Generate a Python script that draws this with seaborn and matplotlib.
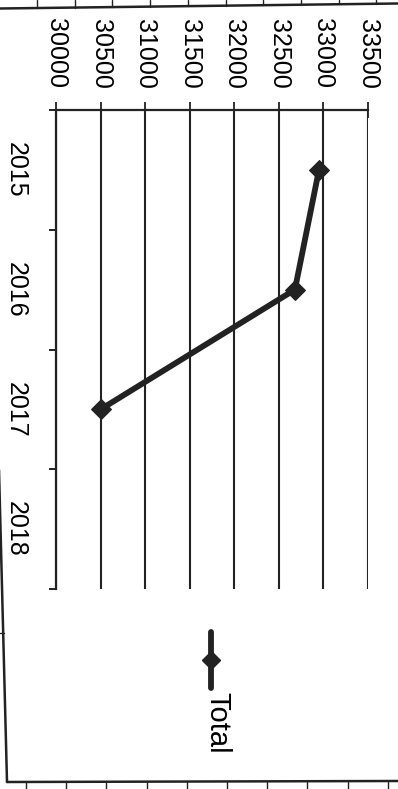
import numpy as np
import pandas as pd
import matplotlib
matplotlib.use("Agg")
import matplotlib.pyplot as plt
from matplotlib.lines import Line2D
from matplotlib.ticker import FixedLocator
import seaborn as sns

# Yearly totals (no value recorded for 2018)
years = ["2015", "2016", "2017", "2018"]
totals = [32950, 32680, 30500, np.nan]
value_ticks = [30000, 30500, 31000, 31500, 32000, 32500, 33000, 33500]
series_name = "Total"

W, H = 398, 789
sns.set_theme(style="white")
plt.rcParams["font.family"] = ["Liberation Sans Narrow", "Liberation Sans", "DejaVu Sans"]

INK = "#222222"
fig = plt.figure(figsize=(W / 100, H / 100), dpi=100)


def fx(x):
    return x / W


def fy(y):
    return 1 - y / H


# Page is turned on its side: values run left→right, years run top→bottom
ax = fig.add_axes([fx(56), fy(589), fx(368) - fx(56), fy(110) - fy(589)])

df = pd.DataFrame({"year": years, "pos": np.arange(len(years)), "total": totals}).dropna()
sns.lineplot(data=df, x="total", y="pos", orient="y", sort=False, ax=ax,
             color=INK, linewidth=4.2, marker="D", markersize=10,
             markeredgecolor=INK, markerfacecolor=INK, legend=False)

ax.set_xlim(value_ticks[0], value_ticks[-1])
ax.set_ylim(len(years) - 0.5, -0.5)
ax.set_xlabel("")
ax.set_ylabel("")

# value axis along the top
ax.xaxis.set_major_locator(FixedLocator(value_ticks))
ax.xaxis.tick_top()
ax.set_xticklabels([str(v) for v in value_ticks])
ax.tick_params(axis="x", which="major", direction="inout", length=11, width=1.3,
               color=INK, pad=10, labelsize=18, labelrotation=-90,
               labelcolor="black", top=True, bottom=False)

# category axis on the left, tick marks between categories
ax.set_yticks(range(len(years)))
ax.set_yticklabels(years)
ax.set_yticks(np.arange(-0.5, len(years)), minor=True)
ax.tick_params(axis="y", which="major", length=0, pad=20, labelsize=18,
               labelrotation=-90, labelcolor="black")
ax.tick_params(axis="y", which="minor", direction="out", length=5, width=1.4,
               color=INK, left=True)
for lab in ax.get_yticklabels():
    lab.set_va("center")

ax.grid(axis="x", color=INK, linewidth=1.5)
ax.grid(axis="y", visible=False)
for s in ["right", "bottom"]:
    ax.spines[s].set_visible(False)
for s in ["top", "left"]:
    ax.spines[s].set_color(INK)
    ax.spines[s].set_linewidth(1.6)

# legend key, turned like the rest of the chart
fig.add_artist(Line2D([fx(211), fx(211)], [fy(632), fy(688)], transform=fig.transFigure,
                      color=INK, linewidth=4.2, solid_capstyle="round"))
fig.add_artist(Line2D([fx(211)], [fy(660)], transform=fig.transFigure, color=INK,
                      marker="D", markersize=9, markeredgecolor=INK, markerfacecolor=INK))
fig.text(fx(217), fy(692), series_name, rotation=-90, ha="center", va="top",
         fontsize=21, color="black")

# frame of the chart area
frame_kw = dict(transform=fig.transFigure, color=INK, linewidth=1.8)
fig.add_artist(Line2D([fx(0), fx(398)], [fy(8.5), fy(3.5)], **frame_kw))
for x in np.arange(37, 398, 37.7):
    ytop = 8.5 - 5.0 * x / 398
    fig.add_artist(Line2D([fx(x), fx(x)], [fy(0), fy(ytop)], transform=fig.transFigure,
                          color=INK, linewidth=1.0))
fig.add_artist(Line2D([fx(-1), fx(7)], [fy(470), fy(782)], **frame_kw))
fig.add_artist(Line2D([fx(0), fx(4)], [fy(633), fy(633)], transform=fig.transFigure,
                      color=INK, linewidth=1.0))
fig.add_artist(Line2D([fx(7), fx(398)], [fy(782), fy(781)], **frame_kw))
for x in np.arange(26, 398, 40.2):
    fig.add_artist(Line2D([fx(x), fx(x)], [fy(782), fy(789)], transform=fig.transFigure,
                          color=INK, linewidth=1.0))

fig.savefig("out.png", dpi=100)
